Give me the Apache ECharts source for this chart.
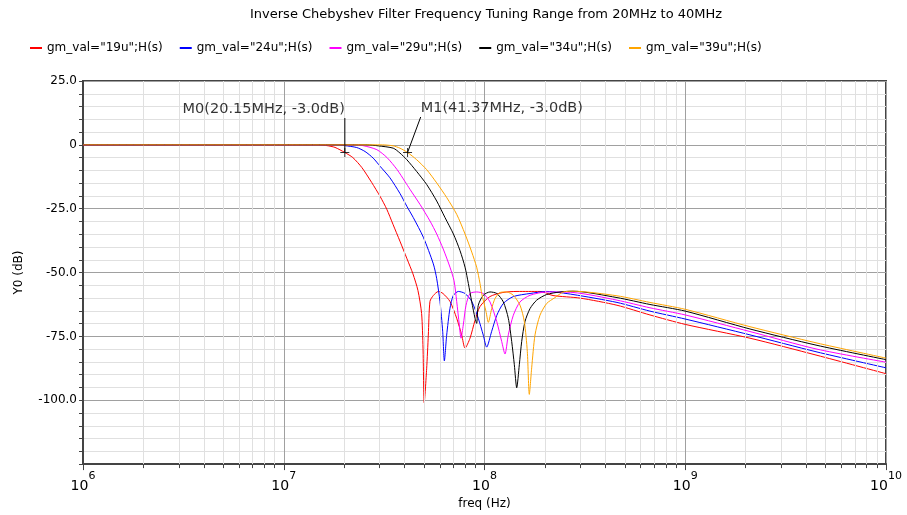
<!DOCTYPE html>
<html>
<head>
<meta charset="utf-8">
<title>Inverse Chebyshev Filter Frequency Tuning Range</title>
<script src="https://cdn.jsdelivr.net/npm/echarts@6.0.0/dist/echarts.min.js"></script>
<style>
  html, body { margin: 0; padding: 0; background: #fff; }
  #chart { width: 907px; height: 515px; }
</style>
</head>
<body>
<div id="chart"></div>
<script>
// curve names and colours, in drawing order (orange on top)
var seriesNames = ['gm_val="19u";H(s)', 'gm_val="24u";H(s)', 'gm_val="29u";H(s)', 'gm_val="34u";H(s)', 'gm_val="39u";H(s)'];
var seriesColors = ['#ff0000', '#0000ff', '#ff00ff', '#000000', '#ffa500'];

// frequency in MHz, magnitude in dB
var redMHz = [1, 10, 15, 16.4, 18.0, 20.15, 22.1, 24.5, 27.4, 30.2, 32.6, 35.0, 37.9, 41.1, 44.0, 46.6, 48.6, 49.4, 50.1, 51.5, 52.5, 53.5, 55.6, 58.9, 62.1, 67.3, 72.7, 77.0, 80.0, 84.7, 89.7, 95.0, 106.5, 123.6, 145.2, 189, 219.4, 299, 457, 667, 1000, 2101, 4532, 10000];
var redDB  = [0, 0, 0, -0.3, -1.0, -3.0, -5.0, -8.9, -14.7, -20.2, -25.2, -31.1, -37.7, -44.6, -50.5, -57.0, -66.0, -79.6, -101, -87.7, -74.5, -61.3, -59.0, -57.4, -58.2, -61.3, -67.9, -74.5, -79.6, -75.7, -68.7, -63.3, -59.4, -57.8, -57.4, -57.4, -59.0, -60.0, -62.8, -66.6, -70.3, -75.7, -82.4, -89.6];

var blueMHz = [1, 10, 19, 20.15, 23.1, 25.4, 27.9, 30.2, 33.8, 37.9, 41.0, 44.2, 49.6, 55.6, 57.8, 60.0, 61.9, 63.1, 64.8, 67.3, 69.9, 74.1, 80.0, 86.4, 93.1, 98.6, 102.5, 108.6, 115.1, 124.1, 139.3, 168.6, 204, 276, 457, 667, 1000, 2101, 4532, 10000];
var blueDB  = [0, 0, 0, -0.3, -1.05, -2.6, -5.2, -8.4, -12.9, -19.0, -24.0, -28.5, -36.2, -46.6, -52.4, -61.3, -73.0, -84.6, -74.5, -64.0, -59.0, -57.4, -58.2, -61.3, -67.9, -74.5, -79.2, -73.0, -66.8, -62.1, -59.4, -58.2, -57.4, -58.6, -61.7, -65.1, -68.2, -74.4, -81.1, -87.3];

var magentaMHz = [1, 10, 22, 24.8, 29.1, 32.7, 36.7, 40.2, 42.6, 47.7, 53.5, 57.8, 62.3, 67.3, 70.5, 72.7, 74.9, 76.4, 78.4, 80.9, 84.7, 91.4, 98.6, 106.5, 115.1, 121.8, 126.5, 131.4, 139.2, 150.3, 168.6, 204.1, 276, 457, 667, 1000, 2101, 4532, 10000];
var magentaDB  = [0, 0, 0, -0.3, -1.9, -5.0, -9.7, -14.4, -17.5, -23.3, -29.8, -34.9, -40.8, -47.9, -53.2, -61.3, -70.5, -75.7, -70.5, -62.8, -58.2, -57.6, -58.2, -61.5, -69.2, -77.0, -81.9, -74.4, -66.7, -61.5, -58.9, -57.6, -57.8, -60.8, -63.8, -66.6, -73.1, -80.0, -85.1];

var blackMHz = [1, 10, 26, 29.6, 35.1, 37.9, 41.0, 45.9, 51.5, 57.8, 63.6, 70.0, 75.5, 80.0, 83.1, 86.4, 89.7, 91.4, 93.1, 98.6, 106.5, 115.1, 124.1, 131.4, 136.6, 140.8, 144.7, 149.1, 153.2, 159.1, 168.6, 182, 204, 237.7, 276, 457, 667, 1000, 2101, 4532, 10000];
var blackDB  = [0, 0, 0, -0.4, -1.3, -3.2, -5.8, -10.4, -15.5, -22.0, -28.5, -34.9, -41.4, -47.9, -54.3, -61.5, -67.9, -69.9, -62.8, -58.9, -57.6, -58.2, -61.5, -67.9, -77.0, -86.1, -95.1, -86.1, -77.0, -69.2, -64.1, -60.8, -58.6, -57.6, -57.3, -59.8, -62.5, -65.1, -72.1, -78.5, -84.1];

var orangeMHz = [1, 10, 31, 35.1, 37.9, 41.37, 45.9, 51.5, 57.8, 64.9, 72.7, 80.0, 86.4, 91.4, 95.0, 96.8, 101.7, 104.5, 108.6, 112.8, 119.5, 129.0, 139.2, 150.3, 157.9, 163.4, 167.2, 171.8, 178.5, 189.0, 204.1, 224.5, 247.0, 276, 457, 667, 1000, 2101, 4532, 10000];
var orangeDB  = [0, 0, 0, -0.4, -1.3, -3.0, -5.8, -9.7, -14.9, -20.7, -27.2, -34.9, -42.0, -47.9, -54.3, -58.2, -65.2, -69.5, -64.1, -60.2, -57.8, -57.6, -58.9, -62.8, -69.2, -80.9, -97.7, -87.3, -74.4, -66.7, -62.1, -59.8, -57.6, -57.3, -59.1, -61.7, -64.4, -71.2, -77.6, -83.5];

// markers: point on curve and where the label leader line ends
var markerNames = ['M0', 'M1'];
var markerMHz = [20.15, 41.37];
var markerDB = [-3.0, -3.0];
var markerLabelMHz = [20.15, 48.1];
var markerLabelDB = [10.5, 10.9];
var markerAlign = ['right', 'left'];

// axis settings
var yTicks = [-125, -100, -75, -50, -25, 0, 25];
var decades = [1e6, 1e7, 1e8, 1e9];
var minorFactors = [2, 3, 4, 5, 6, 7, 8, 9];

var FONT = 'DejaVu Sans';

function pairs(mhz, db) {
    return mhz.map(function (f, i) { return [f * 1e6, db[i]]; });
}

var curves = [
    pairs(redMHz, redDB),
    pairs(blueMHz, blueDB),
    pairs(magentaMHz, magentaDB),
    pairs(blackMHz, blackDB),
    pairs(orangeMHz, orangeDB)
];

var minorX = [];
decades.forEach(function (d) {
    minorFactors.forEach(function (k) { minorX.push(d * k); });
});

var series = [];

// light vertical grid lines at 2..9 of each decade
series.push({
    type: 'line',
    name: 'minorGrid',
    data: [],
    z: 1,
    silent: true,
    animation: false,
    markLine: {
        silent: true,
        symbol: 'none',
        label: { show: false },
        lineStyle: { color: '#e0e0e0', width: 1, type: 'solid' },
        data: minorX.map(function (v) { return { xAxis: v }; })
    }
});

curves.forEach(function (c, i) {
    series.push({
        name: seriesNames[i],
        type: 'line',
        data: c,
        showSymbol: false,
        symbol: 'none',
        smooth: 0.25,
        z: 3 + i,
        lineStyle: { color: seriesColors[i], width: 1 },
        itemStyle: { color: seriesColors[i] },
        animation: false
    });
});

markerNames.forEach(function (m, i) {
    var f = markerMHz[i] * 1e6;
    var txt = m + '(' + markerMHz[i].toFixed(2) + 'MHz, ' + markerDB[i].toFixed(1) + 'dB)';
    // leader line
    series.push({
        type: 'line',
        name: m + 'line',
        data: [[f, markerDB[i]], [markerLabelMHz[i] * 1e6, markerLabelDB[i]]],
        symbol: 'none',
        z: 10,
        lineStyle: { color: '#000', width: 1 },
        animation: false,
        silent: true
    });
    // cross and label
    series.push({
        type: 'scatter',
        name: m,
        z: 11,
        silent: true,
        animation: false,
        data: [
            { value: [f, markerDB[i]], symbol: 'path://M0,5L10,5M5,0L5,10', symbolSize: 9,
              itemStyle: { color: 'none', borderColor: '#000', borderWidth: 1 } },
            { value: [markerLabelMHz[i] * 1e6, markerLabelDB[i]], symbolSize: 0,
              label: { show: true, position: 'top', distance: 1, align: markerAlign[i],
                       formatter: txt, fontFamily: FONT, fontSize: 14.5, color: '#000' } }
        ]
    });
});

var chart = echarts.init(document.getElementById('chart'), null, { renderer: 'canvas' });
chart.setOption({
    backgroundColor: '#fff',
    animation: false,
    title: {
        text: 'Inverse Chebyshev Filter Frequency Tuning Range from 20MHz to 40MHz',
        left: 250,
        top: 8,
        padding: 0,
        textStyle: { fontFamily: FONT, fontSize: 13, fontWeight: 'normal', color: '#000' }
    },
    legend: {
        data: seriesNames,
        left: 30,
        top: 42,
        padding: 0,
        icon: 'rect',
        itemWidth: 12,
        itemHeight: 2,
        itemGap: 17,
        textStyle: { fontFamily: FONT, fontSize: 12, color: '#000' }
    },
    grid: {
        left: 83, right: 21, top: 81, bottom: 48,
        show: true, borderColor: '#444', borderWidth: 2, backgroundColor: '#fff'
    },
    xAxis: [{
        type: 'log',
        logBase: 10,
        min: 1e6,
        max: 1e10,
        name: 'freq (Hz)',
        nameLocation: 'middle',
        nameGap: 29,
        nameTextStyle: { fontFamily: FONT, fontSize: 12, color: '#000' },
        axisLine: { show: true, onZero: false, lineStyle: { color: '#444', width: 2 } },
        axisTick: { show: true, length: 6, lineStyle: { color: '#444' } },
        splitLine: { show: true, lineStyle: { color: '#a0a0a0', width: 1 } },
        axisLabel: {
            margin: 7,
            formatter: function (v) { return '{b|10}{s|' + Math.round(Math.log10(v)) + '}'; },
            rich: {
                b: { fontFamily: FONT, fontSize: 14, color: '#000', lineHeight: 22, verticalAlign: 'bottom' },
                s: { fontFamily: FONT, fontSize: 11, color: '#000', lineHeight: 13, verticalAlign: 'top' }
            }
        }
    }, {
        type: 'log',
        logBase: 10,
        min: 1e6,
        max: 1e10,
        position: 'bottom',
        axisLine: { show: false, onZero: false },
        axisLabel: { show: false },
        splitLine: { show: false },
        axisTick: { show: true, length: 4, customValues: minorX, lineStyle: { color: '#444' } }
    }],
    yAxis: {
        type: 'value',
        min: yTicks[0],
        max: yTicks[yTicks.length - 1],
        interval: 25,
        name: 'Y0 (dB)',
        nameLocation: 'middle',
        nameGap: 58,
        nameTextStyle: { fontFamily: FONT, fontSize: 12, color: '#000' },
        axisLine: { show: true, lineStyle: { color: '#444', width: 2 } },
        axisTick: { show: true, length: 4, lineStyle: { color: '#444' } },
        minorTick: { show: true, splitNumber: 5, length: 4, lineStyle: { color: '#444' } },
        splitLine: { show: true, lineStyle: { color: '#a0a0a0', width: 1 } },
        minorSplitLine: { show: true, lineStyle: { color: '#e0e0e0', width: 1 } },
        axisLabel: {
            fontFamily: FONT, fontSize: 12, color: '#000', margin: 6,
            formatter: function (v) { return v === 0 ? '0' : v.toFixed(1); },
            showMinLabel: false
        }
    },
    series: series
});
</script>
</body>
</html>
